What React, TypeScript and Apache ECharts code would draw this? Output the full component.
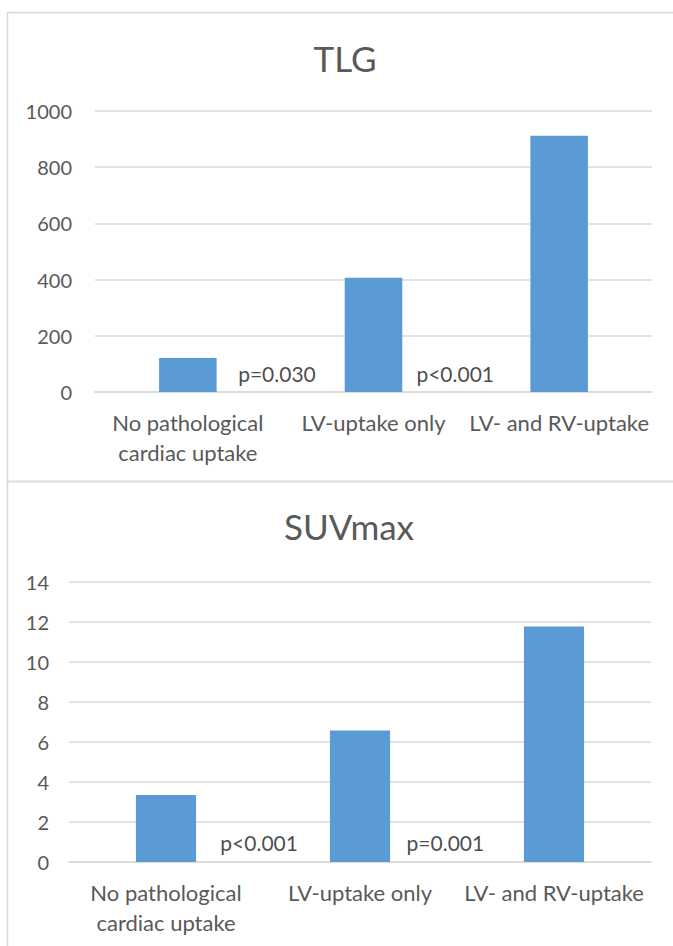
import React, { useEffect, useRef } from "react";
import * as echarts from "echarts";

const categories = ["No pathological\ncardiac uptake", "LV-uptake only", "LV- and RV-uptake"];
const tlgValues = [121, 407, 912];
const suvValues = [3.35, 6.58, 11.78];
const tlgAxis = { min: 0, max: 1000, interval: 200 };
const suvAxis = { min: 0, max: 14, interval: 2 };
const tlgPLabels = ["p=0.030", "p<0.001"];
const tlgPPositions = [[0.98, 65], [1.94, 65]];
const suvPLabels = ["p<0.001", "p=0.001"];
const suvPPositions = [[0.98, 0.96], [1.94, 0.96]];
const titles = ["TLG", "SUVmax"];

const FONT = "Lato, 'Open Sans', sans-serif";
const GRAY = "#595959";
const LINE = "#D9D9D9";
const BLUE = "#5B9BD5";

export default function App() {
  const ref = useRef<HTMLDivElement>(null);
  useEffect(() => {
    document.body.style.margin = "0";
    const chart = echarts.init(ref.current!, null, { renderer: "svg" });
    const xCat = (gridIndex: number) => ({
      type: "category",
      gridIndex,
      data: categories,
      axisLine: { show: true, lineStyle: { color: LINE, width: 1.5 } },
      axisTick: { show: false },
      axisLabel: {
        interval: 0,
        color: GRAY,
        fontFamily: FONT,
        fontSize: 22,
        lineHeight: 30,
        margin: 15,
      },
    });
    const xHidden = (gridIndex: number) => ({
      type: "value",
      gridIndex,
      min: 0,
      max: 3,
      show: false,
    });
    const yVal = (gridIndex: number, ax: any, margin: number) => ({
      type: "value",
      gridIndex,
      min: ax.min,
      max: ax.max,
      interval: ax.interval,
      axisLine: { show: false },
      axisTick: { show: false },
      splitLine: { lineStyle: { color: LINE, width: 1.5 } },
      axisLabel: {
        color: GRAY,
        fontFamily: FONT,
        fontSize: 20,
        margin,
        formatter: (v: number) => String(v),
      },
    });
    const pSeries = (xi: number, yi: number, pos: number[][], labels: string[]) => ({
      type: "scatter",
      xAxisIndex: xi,
      yAxisIndex: yi,
      symbolSize: 0,
      silent: true,
      data: pos.map((p, i) => ({ value: p, name: labels[i] })),
      label: {
        show: true,
        position: "inside",
        formatter: (p: any) => p.name,
        color: "#1a1a1a",
        fontFamily: FONT,
        fontSize: 21,
      },
    });
    chart.setOption({
      animation: false,
      backgroundColor: "#ffffff",
      title: [
        {
          text: titles[0],
          left: 340,
          top: 35,
          textAlign: "center",
          textStyle: { color: GRAY, fontFamily: FONT, fontSize: 35, fontWeight: "normal" },
        },
        {
          text: titles[1],
          left: 344,
          top: 503,
          textAlign: "center",
          textStyle: { color: GRAY, fontFamily: FONT, fontSize: 35, fontWeight: "normal" },
        },
      ],
      grid: [
        { left: 95, right: 21, top: 111, height: 281 },
        { left: 69, right: 22, top: 582, height: 280 },
      ],
      xAxis: [xCat(0), xCat(1), xHidden(0), xHidden(1)],
      yAxis: [yVal(0, tlgAxis, 23), yVal(1, suvAxis, 20)],
      graphic: [
        {
          type: "rect",
          shape: { x: 7.5, y: 12.5, width: 700, height: 469 },
          style: { fill: "none", stroke: LINE, lineWidth: 1.5 },
          silent: true,
        },
        {
          type: "rect",
          shape: { x: 7.5, y: 481.5, width: 700, height: 500 },
          style: { fill: "none", stroke: LINE, lineWidth: 1.5 },
          silent: true,
        },
      ],
      series: [
        {
          type: "bar",
          xAxisIndex: 0,
          yAxisIndex: 0,
          data: tlgValues,
          barWidth: "31%",
          itemStyle: { color: BLUE },
        },
        {
          type: "bar",
          xAxisIndex: 1,
          yAxisIndex: 1,
          data: suvValues,
          barWidth: "31%",
          itemStyle: { color: BLUE },
        },
        pSeries(2, 0, tlgPPositions, tlgPLabels),
        pSeries(3, 1, suvPPositions, suvPLabels),
      ],
    });
    return () => chart.dispose();
  }, []);
  return (
    <div
      ref={ref}
      style={{ position: "absolute", left: 0, top: 0, width: 673, height: 946 }}
    />
  );
}
